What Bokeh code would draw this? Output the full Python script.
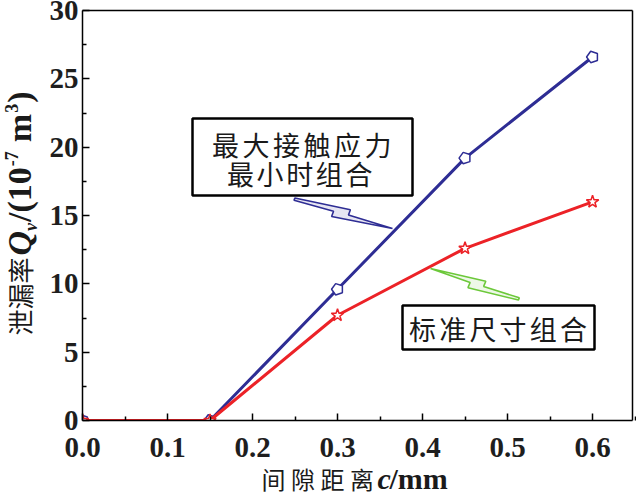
import math
from bokeh.plotting import figure
from bokeh.models import Label, FixedTicker, Range1d, LinearAxis
from bokeh.embed import file_html
from bokeh.resources import INLINE

# ---- data ----
gap_mm = [0.0, 0.15, 0.30, 0.45, 0.60]
leak_min_stress = [0.0, 0.0, 9.6, 19.2, 26.6]   # 最大接触应力最小时组合
leak_standard = [0.0, 0.0, 7.7, 12.6, 16.0]     # 标准尺寸组合
x_ticks = [0.0, 0.1, 0.2, 0.3, 0.4, 0.5, 0.6]
y_ticks = [0, 5, 10, 15, 20, 25, 30]

BLUE = "#2e2d94"
RED = "#ec2227"
GREEN = "#6cc83a"
SERIF = "Liberation Serif"
CJK = "Noto Sans CJK SC"

# canvas size and where the plotting box sits on it (pixels)
W, H = 636, 494
PX_LEFT, PX_RIGHT, PX_TOP, PX_BOTTOM = 82, 632, 10, 420
X_MAX = 0.647
Y_MAX = 30.0
SX = (PX_RIGHT - PX_LEFT) / X_MAX      # pixels per mm
SY = (PX_BOTTOM - PX_TOP) / Y_MAX      # pixels per unit


def px2x(px):
    return (px - PX_LEFT) / SX


def px2y(py):
    return (PX_BOTTOM - py) / SY


# the drawing area spans the whole canvas; axes are pinned at the box edges
p = figure(width=W, height=H, output_backend="svg", toolbar_location=None,
           x_range=Range1d(px2x(0), px2x(W)),
           y_range=Range1d(px2y(H), px2y(0)),
           x_axis_type=None, y_axis_type=None,
           min_border=0, min_border_left=0, min_border_right=0,
           min_border_top=0, min_border_bottom=0)
p.background_fill_color = "white"
p.border_fill_color = "white"
p.outline_line_color = None
p.xgrid.visible = False
p.ygrid.visible = False


def style_axis(ax):
    ax.axis_line_width = 1.5
    ax.axis_line_color = "black"
    ax.major_tick_in = 7
    ax.major_tick_out = 0
    ax.minor_tick_in = 4
    ax.minor_tick_out = 0
    ax.major_tick_line_width = 1.5
    ax.minor_tick_line_width = 1.5
    ax.major_label_text_font = SERIF
    ax.major_label_text_font_style = "bold"
    ax.major_label_text_font_size = "29px"
    ax.major_label_text_color = "#1e1e1e"


xaxis = LinearAxis(fixed_location=0, bounds=(0, X_MAX),
                   ticker=FixedTicker(ticks=x_ticks,
                                      minor_ticks=[0.05 + 0.1 * i for i in range(7)]),
                   major_label_overrides={t: f"{t:.1f}" for t in x_ticks})
style_axis(xaxis)
xaxis.major_label_standoff = 17
p.add_layout(xaxis, "below")

yaxis = LinearAxis(fixed_location=0, bounds=(0, Y_MAX),
                   ticker=FixedTicker(ticks=y_ticks,
                                      minor_ticks=[2.5 + 5 * i for i in range(6)]),
                   major_label_overrides={t: str(t) for t in y_ticks})
style_axis(yaxis)
yaxis.major_label_standoff = 4
p.add_layout(yaxis, "left")

# closing edges of the box: plain axes with no ticks or labels
for loc, side, bnds in ((Y_MAX, "above", (0, X_MAX)), (X_MAX, "right", (0, Y_MAX))):
    edge = LinearAxis(fixed_location=loc, bounds=bnds,
                      ticker=FixedTicker(ticks=[]),
                      major_tick_line_color=None, minor_tick_line_color=None,
                      major_label_text_font_size="0px",
                      axis_line_width=1.5, axis_line_color="black")
    p.add_layout(edge, side)


# ---- series ----
p.line(gap_mm, leak_min_stress, line_color=BLUE, line_width=3)
drawn = False
if hasattr(p, "ngon"):
    try:
        p.ngon(x=gap_mm, y=leak_min_stress, radius=6, radius_units="screen",
               n=5, angle=math.pi / 2, fill_color="white",
               line_color=BLUE, line_width=1.5)
        drawn = True
    except Exception:
        drawn = False
if not drawn:
    p.scatter(gap_mm, leak_min_stress, marker="hex", size=11,
              fill_color="white", line_color=BLUE, line_width=1.5)

p.line(gap_mm, leak_standard, line_color=RED, line_width=3)
p.scatter(gap_mm, leak_standard, marker="star", size=13,
          fill_color="white", line_color=RED, line_width=1.5)

# white margins outside the box, so marks stop at its edges
p.quad(left=px2x(-2), right=0, bottom=px2y(H + 2), top=px2y(-2),
       fill_color="white", line_color=None)
p.quad(left=px2x(-2), right=px2x(W + 2), bottom=px2y(H + 2), top=0,
       fill_color="white", line_color=None)


# ---- lightning-bolt pointers (wide end at the box, tip at the curve) ----
BOLT = [(0.6, 0.0), (0.1, 0.55), (0.45, 0.55), (0.3, 1.0),
        (0.9, 0.4), (0.55, 0.4), (0.75, 0.0)]


def bolt(sx, sy, tx, ty, width, color):
    dx, dy = tx - sx, ty - sy
    length = math.hypot(dx, dy)
    ux, uy = dx / length, dy / length
    nx, ny = -uy, ux
    xs, ys = [], []
    for bx, by in BOLT:
        a = by * length
        b = (bx - 0.3) * width
        xs.append(px2x(sx + ux * a + nx * b))
        ys.append(px2y(sy + uy * a + ny * b))
    p.patch(xs, ys, fill_color=color, fill_alpha=0.12,
            line_color=color, line_width=1.6)


bolt(296, 193, 392, 228, 16, BLUE)
bolt(516, 304, 430, 268, 16, GREEN)


# ---- callout boxes ----
def box(l, r, t, b):
    p.quad(left=px2x(l), right=px2x(r), top=px2y(t), bottom=px2y(b),
           fill_color="white", line_color="black", line_width=2.5)


box(192, 412, 118, 195)
box(402, 594, 305, 349)


def label(text, px, py, size, font=CJK, style="normal", align="center",
          baseline="middle", angle=0.0, color="#1a1a1a"):
    p.add_layout(Label(x=px2x(px), y=px2y(py), text=text,
                       text_font=font, text_font_size=f"{size}px",
                       text_font_style=style, text_align=align,
                       text_baseline=baseline, angle=angle,
                       text_color=color))


def spaced(text, first_center, pitch, py, size):
    for i, ch in enumerate(text):
        label(ch, first_center + i * pitch, py, size)


spaced("最大接触应力", 225, 30.5, 144, 27)
spaced("最小时组合", 240, 29.6, 173, 27)
spaced("标准尺寸组合", 422, 30.2, 328, 27)

# ---- x-axis title ----
spaced("间隙距离", 273, 29.5, 478, 24)
label("c", 377, 478, 30, font=SERIF, style="bold italic", align="left")
label("/mm", 389, 478, 30, font=SERIF, style="bold", align="left")

# ---- y-axis title (rotated, reads bottom to top) ----
# pieces are laid end to end; advances use Times-style bold widths (em units)
up = math.pi / 2
MAIN, SMALL = 34, 18
pieces = [
    # text, size, style, x centre, advance in em, starts after a gap (px)
    ("Q", MAIN, "bold italic", 19, 0.722, 0),
    ("v", SMALL, "bold italic", 30, 0.444, 0),
    ("/(10", MAIN, "bold", 19, 1.611, 1),
    ("-7", SMALL, "bold", 11, 0.833, 1),
    ("m", MAIN, "bold", 19, 0.833, 9),
    ("3", SMALL, "bold", 11, 0.5, 1),
    (")", MAIN, "bold", 19, 0.333, 1),
]
label("泄漏率", 19, 335, 26, align="left", angle=up)
pos = 255.0
for text, size, style, xc, adv, gap in pieces:
    pos -= gap
    label(text, xc, pos, size, font=SERIF, style=style, align="left", angle=up)
    pos -= adv * size

open("out.html", "w").write(file_html(p, INLINE))
